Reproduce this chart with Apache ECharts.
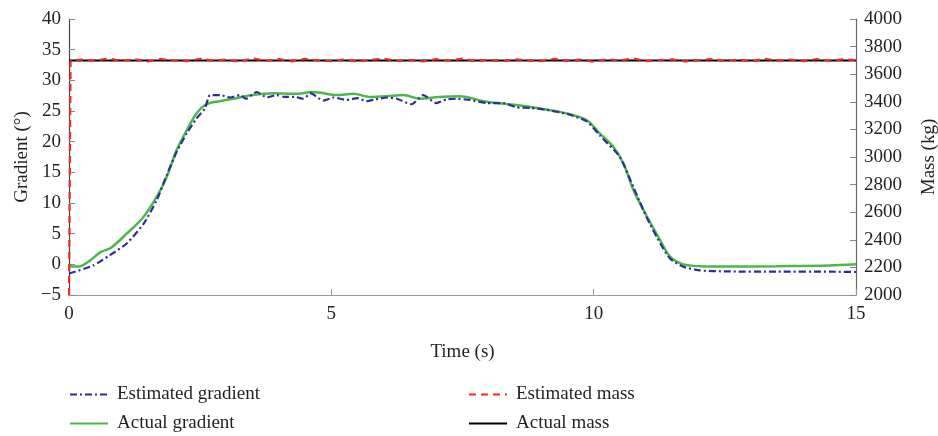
<!DOCTYPE html>
<html>
<head>
<meta charset="utf-8">
<script src="https://cdn.jsdelivr.net/npm/echarts@6/dist/echarts.min.js"></script>
<style>
    html, body { margin: 0; padding: 0; background: #fff; }
    #chart { width: 938px; height: 436px; }
</style>
</head>
<body>
<div id="chart"></div>
<script>
// actual gradient (deg)
let actualTime = [0, 0.2, 0.4, 0.6, 0.8, 1.1, 1.4, 1.67, 1.86, 2.05, 2.24, 2.43, 2.62, 2.88, 3.13, 3.5, 3.9, 4.3, 4.66, 5.1,
    5.42, 5.74, 6.05, 6.37, 6.69, 7.05, 7.45, 7.96, 8.6, 8.98, 9.49, 9.87, 10.12, 10.38, 10.57, 10.76, 11.02, 11.27, 11.46,
    11.71, 12.03, 12.5, 13.5, 14.5, 15]
let actualGrad = [-0.3, -0.35, 0.6, 2.0, 2.7, 5.0, 7.5, 11, 14.2, 18.6, 21.8, 24.6, 26.1, 26.6, 27.0, 27.6, 27.9, 27.8, 28.1, 27.6,
    27.8, 27.3, 27.4, 27.6, 27.0, 27.3, 27.4, 26.5, 25.9, 25.4, 24.6, 23.5, 21.3, 19.1, 16.4, 12.1, 7.7, 3.9, 1.2,
    0.0, -0.3, -0.35, -0.3, -0.2, 0]

// estimated gradient (deg)
let estTime = [0, 0.46, 0.78, 1.1, 1.42, 1.67, 1.86, 2.05, 2.24, 2.43, 2.59, 2.69, 2.88, 3.07, 3.26, 3.37, 3.58, 3.77, 3.96, 4.1,
    4.3, 4.47, 4.6, 4.85, 5.05, 5.29, 5.5, 5.67, 5.85, 6.06, 6.25, 6.53, 6.75, 7.0, 7.2, 7.39, 7.64, 7.96, 8.28, 8.53,
    8.8, 9.1, 9.5, 9.87, 10.12, 10.5, 10.76, 11.02, 11.27, 11.46, 11.71, 12.03, 12.5, 13.5, 14.5, 15]
let estGrad = [-1.5, -0.2, 1.5, 3.4, 6.6, 10.4, 14.5, 18.3, 21.3, 23.8, 25.4, 27.6, 27.6, 27.2, 27.6, 27.0, 28.1, 27.2, 27.6, 27.3,
    27.3, 27.0, 27.9, 26.7, 27.2, 26.8, 27.1, 26.6, 26.9, 27.2, 27.0, 26.1, 27.6, 26.3, 26.9, 27.0, 26.8, 26.3, 26.3, 25.6,
    25.5, 25.2, 24.5, 23.3, 21.0, 17.5, 12.5, 7.5, 3.4, 0.9, -0.4, -1.0, -1.15, -1.2, -1.2, -1.25]

// mass (kg)
let massTime = [0, 0.02, 0.03, 0.25, 0.5, 0.75, 1.0, 1.25, 1.5, 1.75, 2.0, 2.25, 2.5, 2.75, 3.0, 3.25, 3.5, 3.75, 4.0, 4.25,
    4.5, 4.75, 5.0, 5.25, 5.5, 5.75, 6.0, 6.25, 6.5, 6.75, 7.0, 7.25, 7.5, 7.75, 8.0, 8.25, 8.5, 8.75, 9.0, 9.25,
    9.5, 9.75, 10.0, 10.25, 10.5, 10.75, 11.0, 11.25, 11.5, 11.75, 12.0, 12.25, 12.5, 12.75, 13.0, 13.25, 13.5, 13.75,
    14.0, 14.25, 14.5, 14.75, 15]
let estMass = [2000, 2000, 3700, 3706, 3698, 3714, 3696, 3708, 3692, 3710, 3701, 3694, 3712, 3699, 3706, 3690, 3715, 3697, 3709, 3693,
    3711, 3700, 3695, 3707, 3691, 3704, 3712, 3696, 3703, 3693, 3709, 3698, 3713, 3695, 3705, 3692, 3708, 3700, 3694, 3711,
    3697, 3706, 3690, 3709, 3699, 3714, 3695, 3703, 3707, 3693, 3701, 3710, 3696, 3705, 3691, 3712, 3699, 3706, 3694,
    3710, 3698, 3707, 3702]
let actualMassTime = [0, 15]
let actualMass = [3700, 3700]

function pairs(xs, ys) {
    return xs.map(function (x, i) { return [x, ys[i]] })
}

let font = 'Liberation Serif'
let textColor = '#231f20'

let legendText = { fontFamily: font, fontSize: 19, color: textColor, padding: [0, 0, 0, 4] }

let chart = echarts.init(document.getElementById('chart'))
let option = {
    animation: false,
    textStyle: { fontFamily: font, color: textColor },
    grid: { left: 69, right: 82, top: 19, bottom: 141, outerBoundsMode: 'none', containLabel: false },
    legend: [
        {
            data: ['Estimated gradient', 'Actual gradient'],
            orient: 'vertical',
            left: 64, bottom: -2,
            itemWidth: 38, itemHeight: 10, itemGap: 10,
            itemStyle: { opacity: 0 },
            textStyle: legendText
        },
        {
            data: ['Estimated mass', 'Actual mass'],
            orient: 'vertical',
            left: 463, bottom: -2,
            itemWidth: 38, itemHeight: 10, itemGap: 10,
            itemStyle: { opacity: 0 },
            textStyle: legendText
        }
    ],
    xAxis: {
        type: 'value',
        min: 0, max: 15, interval: 5,
        name: 'Time (s)',
        nameLocation: 'middle',
        nameGap: 48,
        nameTextStyle: { fontFamily: font, fontSize: 19, color: textColor },
        axisLine: { onZero: false, lineStyle: { color: '#999', width: 1.2 } },
        axisTick: { inside: true, length: 6, lineStyle: { color: '#999' } },
        axisLabel: { fontFamily: font, fontSize: 19, color: textColor, margin: 10 },
        splitLine: { show: false }
    },
    yAxis: [
        {
            type: 'value',
            min: -5, max: 40, interval: 5,
            name: 'Gradient (°)',
            nameLocation: 'middle',
            nameRotate: 90,
            nameGap: 37,
            nameMoveOverlap: false,
            nameTextStyle: { fontFamily: font, fontSize: 19, color: textColor },
            axisLine: { show: true, onZero: false, lineStyle: { color: '#444', width: 1.2 } },
            axisTick: { show: true, inside: true, length: 6, lineStyle: { color: '#888' } },
            axisLabel: {
                fontFamily: font, fontSize: 19, color: textColor, margin: 8,
                formatter: function (v) { return String(v).replace('-', '\u2212') }
            },
            splitLine: { show: false }
        },
        {
            type: 'value',
            min: 2000, max: 4000, interval: 200,
            name: 'Mass (kg)',
            nameLocation: 'middle',
            nameRotate: 90,
            nameGap: 64,
            nameTextStyle: { fontFamily: font, fontSize: 19, color: textColor },
            axisLine: { show: true, onZero: false, lineStyle: { color: '#666', width: 1.2 } },
            axisTick: { show: true, inside: true, length: 6, lineStyle: { color: '#888' } },
            axisLabel: {
                fontFamily: font, fontSize: 19, color: textColor, margin: 8,
                formatter: function (v) { return String(v) }
            },
            splitLine: { show: false }
        }
    ],
    series: [
        {
            name: 'Actual gradient',
            type: 'line',
            yAxisIndex: 0,
            data: pairs(actualTime, actualGrad),
            showSymbol: false, symbol: 'none',
            smooth: 0.3,
            lineStyle: { color: '#4cb847', width: 2.5 },
            itemStyle: { color: '#4cb847' },
            z: 3
        },
        {
            name: 'Estimated gradient',
            type: 'line',
            yAxisIndex: 0,
            data: pairs(estTime, estGrad),
            showSymbol: false, symbol: 'none',
            smooth: 0.2,
            lineStyle: { color: '#2b2e9c', width: 2.2, type: [7, 3, 2, 3] },
            itemStyle: { color: '#2b2e9c' },
            z: 4
        },
        {
            name: 'Actual mass',
            type: 'line',
            yAxisIndex: 1,
            data: pairs(actualMassTime, actualMass),
            showSymbol: false, symbol: 'none',
            lineStyle: { color: '#000', width: 2 },
            itemStyle: { color: '#000' },
            z: 2
        },
        {
            name: 'Estimated mass',
            type: 'line',
            yAxisIndex: 1,
            data: pairs(massTime, estMass),
            showSymbol: false, symbol: 'none',
            lineStyle: { color: '#ee2a24', width: 2.2, type: [7, 5] },
            itemStyle: { color: '#ee2a24' },
            z: 5
        }
    ]
}
chart.setOption(option)
</script>
</body>
</html>
